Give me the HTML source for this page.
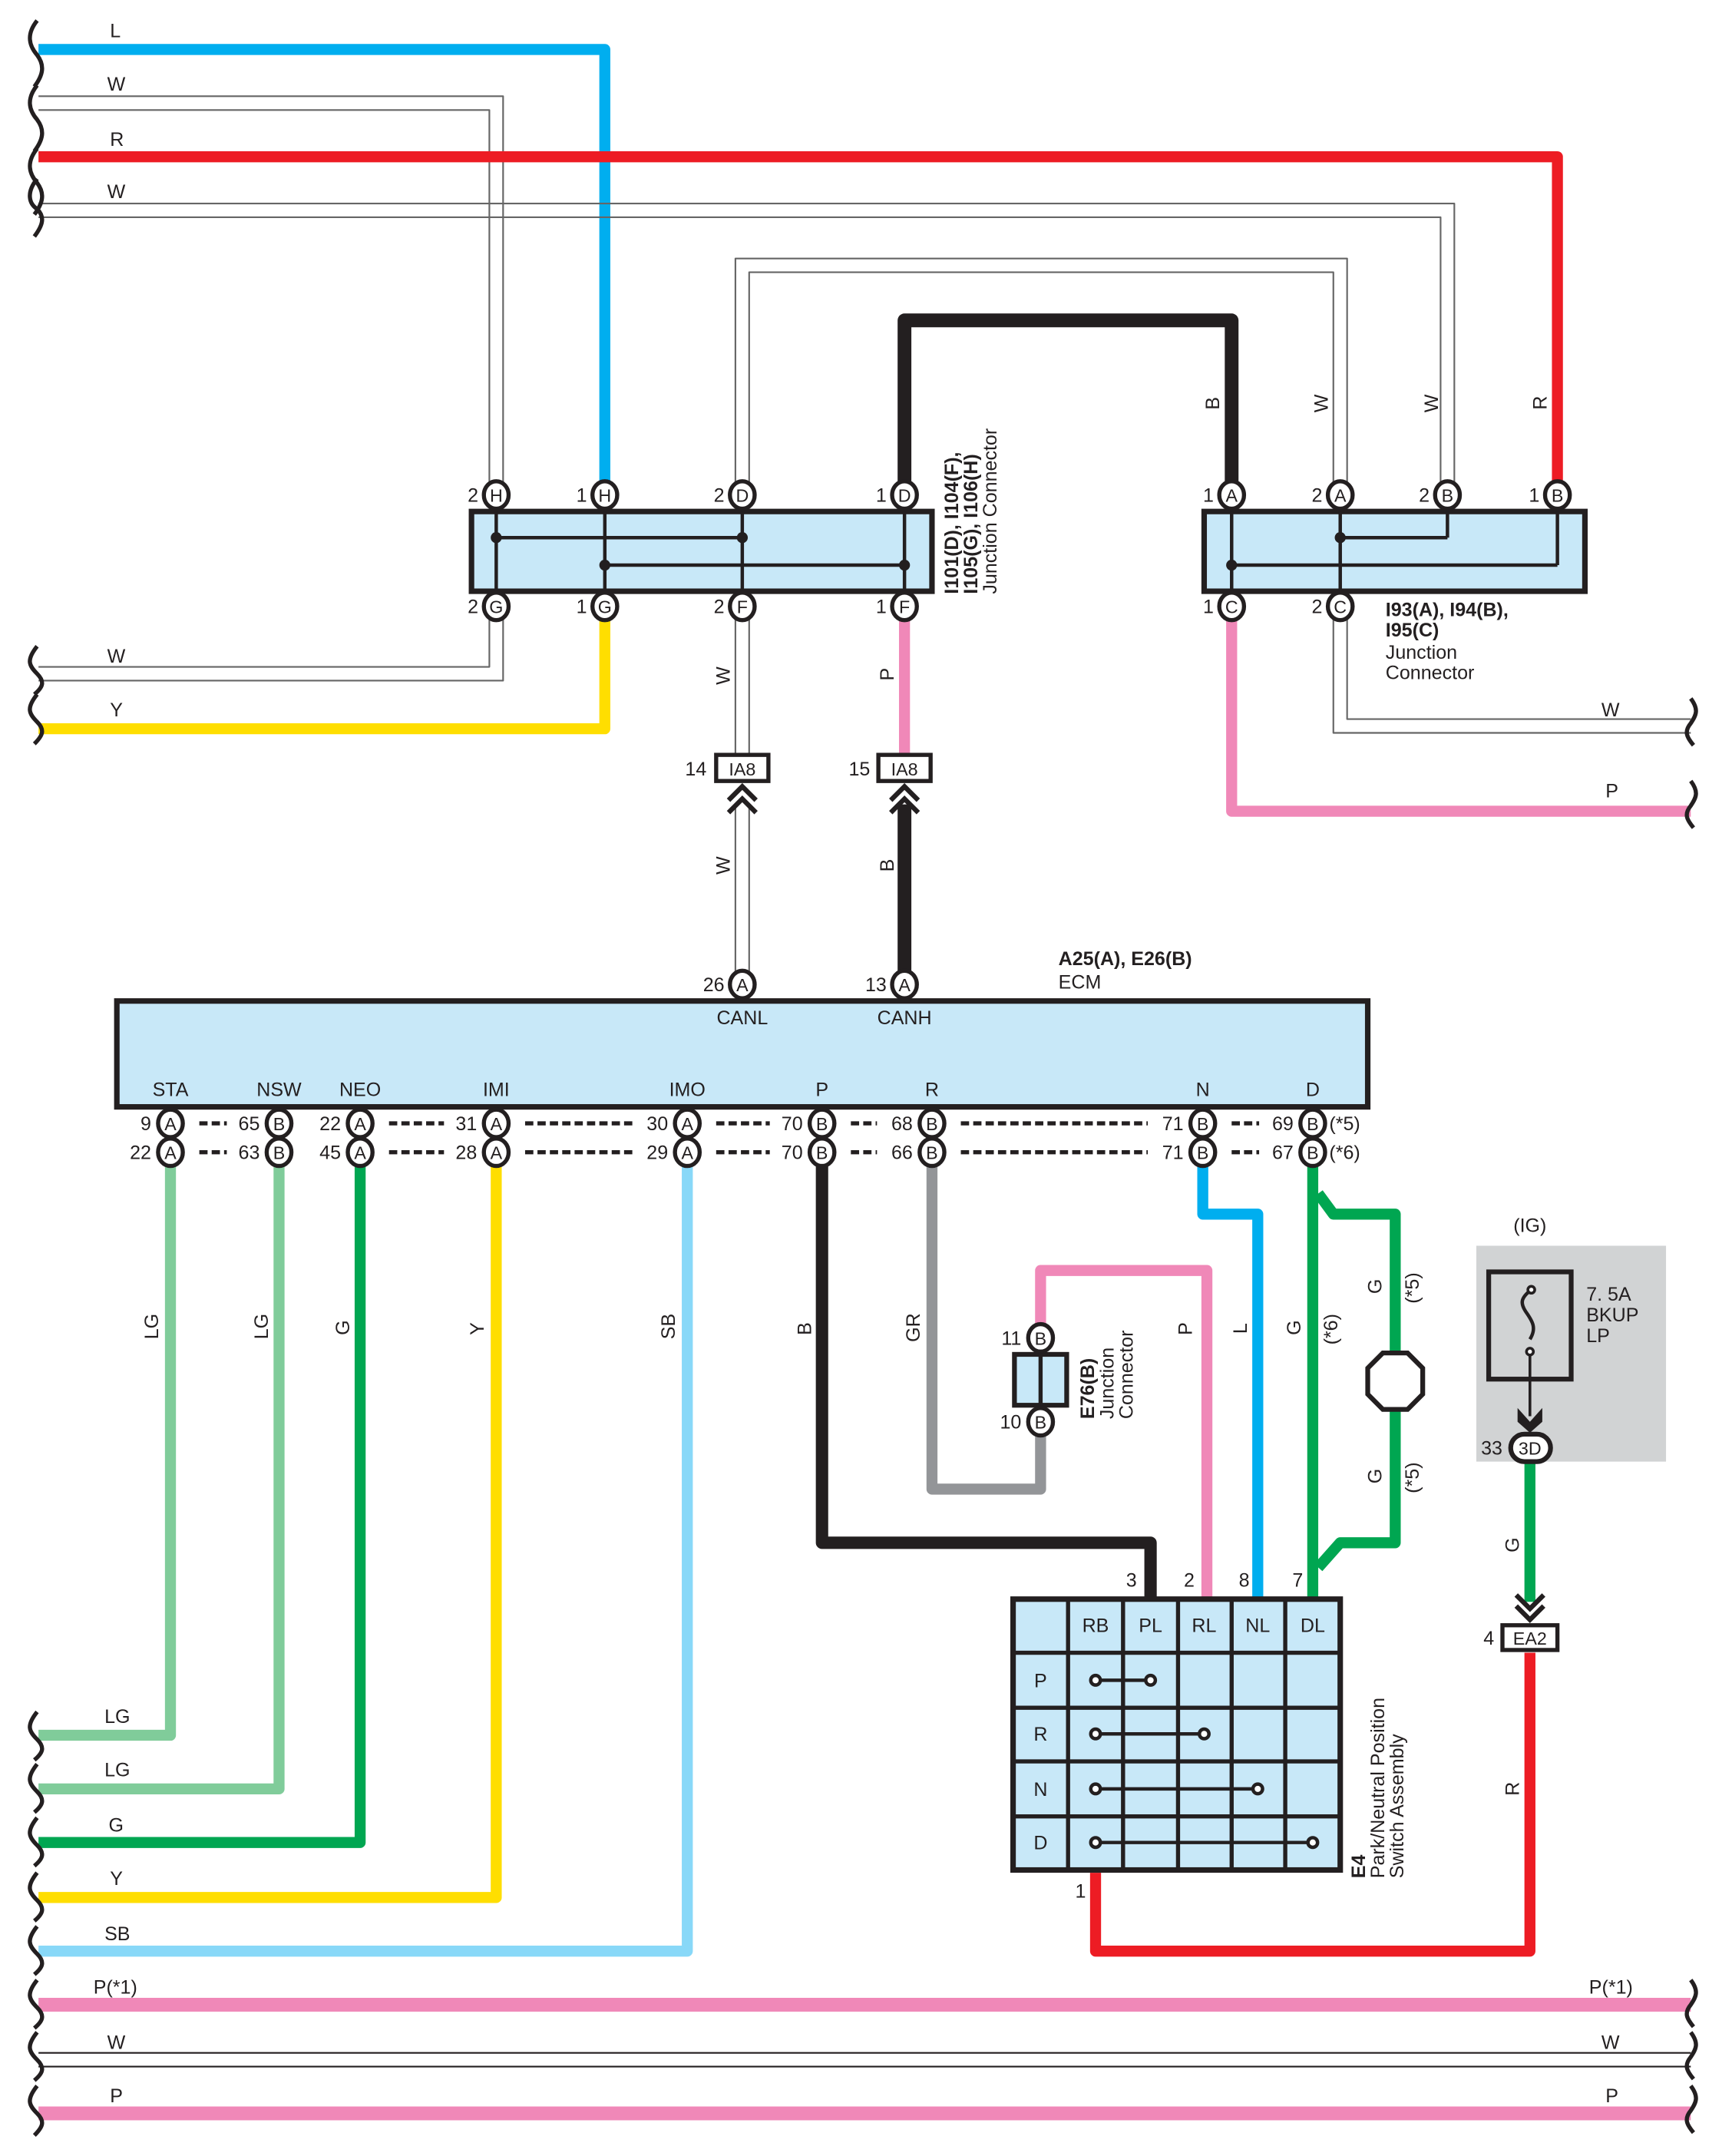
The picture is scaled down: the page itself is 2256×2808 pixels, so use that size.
<!DOCTYPE html>
<html><head><meta charset="utf-8"><style>
html,body{margin:0;padding:0;background:#fff}
svg{display:block}
text{font-family:"Liberation Sans",sans-serif;font-size:14px;fill:#231f20}
.b{font-weight:bold}
.pin text{font-size:13px}
</style></head><body>
<svg width="2256" height="2808" viewBox="0 0 1260 1568" preserveAspectRatio="none" xmlns="http://www.w3.org/2000/svg">
<defs>
<g id="pc"><ellipse cx="0" cy="0" rx="9" ry="10" fill="#fff" stroke="#231f20" stroke-width="3"/></g>
</defs>
<g fill="none" stroke-linejoin="round" stroke-linecap="butt">
<path d="M28,36 H440 V352" stroke="#00aeef" stroke-width="8"/>
<path d="M28,70 H366 V352 M28,80 H356 V352" stroke="#666" stroke-width="1.2"/>
<path d="M28,114 H1133 V352" stroke="#ed1c24" stroke-width="8"/>
<path d="M28,148 H1058 V352 M28,158 H1048 V352" stroke="#666" stroke-width="1.2"/>
<path d="M535,352 V188 H980 V352 M545,352 V198 H970 V352" stroke="#666" stroke-width="1.2"/>
<path d="M658,352 V233 H896 V352" stroke="#231f20" stroke-width="10"/>
<path d="M356,450 V485 H28 M366,450 V495 H28" stroke="#666" stroke-width="1.2"/>
<path d="M440,450 V530 H28" stroke="#ffde00" stroke-width="8"/>
<path d="M535,450 V549 M545,450 V549" stroke="#666" stroke-width="1.2"/>
<path d="M658,450 V549" stroke="#f088b8" stroke-width="8"/>
<path d="M535,585 V708 M545,585 V708" stroke="#666" stroke-width="1.2"/>
<path d="M658,585 V708" stroke="#231f20" stroke-width="10"/>
<path d="M896,450 V590 H1230" stroke="#f088b8" stroke-width="8"/>
<path d="M970,450 V533 H1230 M980,450 V523 H1230" stroke="#666" stroke-width="1.2"/>
<path d="M124,848 V1262 H28" stroke="#80cc9a" stroke-width="8"/>
<path d="M203,848 V1301 H28" stroke="#80cc9a" stroke-width="8"/>
<path d="M262,848 V1340 H28" stroke="#00a651" stroke-width="8"/>
<path d="M361,848 V1380 H28" stroke="#ffde00" stroke-width="8"/>
<path d="M500,848 V1419 H28" stroke="#88d8f8" stroke-width="8"/>
<path d="M598,848 V1122 H837 V1162" stroke="#231f20" stroke-width="9"/>
<path d="M678,848 V1083 H757 V1044" stroke="#939598" stroke-width="8"/>
<path d="M757,964 V924 H878 V1162" stroke="#f088b8" stroke-width="8"/>
<path d="M875,848 V883 H915 V1162" stroke="#00aeef" stroke-width="8"/>
<path d="M955,848 V1162" stroke="#00a651" stroke-width="8"/>
<path d="M959,868 L970,883 H1015 V985 M1015,1025 V1122 H975 L959,1140" stroke="#00a651" stroke-width="8"/>
<path d="M797,1362 V1419 H1113 V1202" stroke="#ed1c24" stroke-width="8"/>
<path d="M1113,1064 V1165" stroke="#00a651" stroke-width="8"/>
<path d="M28,1458 H1230" stroke="#f088b8" stroke-width="10"/>
<path d="M28,1493 H1230 M28,1503 H1230" stroke="#231f20" stroke-width="1.2"/>
<path d="M28,1537 H1230" stroke="#f088b8" stroke-width="10"/>
<g stroke="#231f20" stroke-width="3">
<path d="M27,15 c-8,10 -6,18 0,25 c6,8 4,15 -2,23 M27,62 c-8,10 -6,18 0,25 c6,8 4,15 -2,23 M27,108 c-8,10 -6,18 0,25 c6,8 4,15 -2,23 M27,130 c-8,10 -6,18 0,22 c6,6 4,12 -2,20"/>
<path d="M27,470 c-8,10 -6,14 0,20 c6,6 4,10 -2,15 M27,505 c-8,10 -6,14 0,20 c6,6 4,10 -2,16"/>
<path d="M27,1245 c-8,10 -6,14 0,20 c6,6 4,10 -2,15 M27,1283 c-8,10 -6,14 0,20 c6,6 4,10 -2,15 M27,1322 c-8,10 -6,14 0,20 c6,6 4,10 -2,15 M27,1362 c-8,10 -6,14 0,20 c6,6 4,10 -2,15 M27,1401 c-8,10 -6,14 0,20 c6,6 4,10 -2,15 M27,1440 c-8,10 -6,14 0,20 c6,6 4,10 -2,15 M27,1478 c-8,10 -6,14 0,20 c6,6 4,10 -2,15 M27,1517 c-8,10 -6,14 0,20 c6,6 4,10 -2,16"/>
<path d="M1230,508 c6,8 4,12 0,18 c-5,6 -3,10 2,16 M1230,568 c6,8 4,12 0,18 c-5,6 -3,10 2,16 M1230,1440 c6,8 4,12 0,18 c-5,6 -3,10 2,16 M1230,1478 c6,8 4,12 0,18 c-5,6 -3,10 2,16 M1230,1517 c6,8 4,12 0,18 c-5,6 -3,10 2,16"/>
</g>
</g>

<rect x="343" y="372" width="335" height="58" fill="#c8e8f8" stroke="#231f20" stroke-width="4"/>
<g stroke="#231f20" stroke-width="2.5">
<path d="M361,372 V430 M440,372 V430 M540,372 V430 M658,372 V430 M361,391 H540 M440,411 H658"/>
</g>
<g fill="#231f20"><circle cx="361" cy="391" r="4"/><circle cx="540" cy="391" r="4"/><circle cx="440" cy="411" r="4"/><circle cx="658" cy="411" r="4"/></g>
<rect x="876" y="372" width="277" height="58" fill="#c8e8f8" stroke="#231f20" stroke-width="4"/>
<g stroke="#231f20" stroke-width="2.5">
<path d="M896,372 V430 M975,372 V430 M1053,372 V391 M1133,372 V411 M975,391 H1053 M896,411 H1133"/>
</g>
<g fill="#231f20"><circle cx="975" cy="391" r="4"/><circle cx="896" cy="411" r="4"/></g>

<g class="pin" text-anchor="middle">
<use href="#pc" x="361" y="360"/><text x="361" y="365">H</text>
<use href="#pc" x="440" y="360"/><text x="440" y="365">H</text>
<use href="#pc" x="540" y="360"/><text x="540" y="365">D</text>
<use href="#pc" x="658" y="360"/><text x="658" y="365">D</text>
<use href="#pc" x="361" y="441"/><text x="361" y="446">G</text>
<use href="#pc" x="440" y="441"/><text x="440" y="446">G</text>
<use href="#pc" x="540" y="441"/><text x="540" y="446">F</text>
<use href="#pc" x="658" y="441"/><text x="658" y="446">F</text>
<use href="#pc" x="896" y="360"/><text x="896" y="365">A</text>
<use href="#pc" x="975" y="360"/><text x="975" y="365">A</text>
<use href="#pc" x="1053" y="360"/><text x="1053" y="365">B</text>
<use href="#pc" x="1133" y="360"/><text x="1133" y="365">B</text>
<use href="#pc" x="896" y="441"/><text x="896" y="446">C</text>
<use href="#pc" x="975" y="441"/><text x="975" y="446">C</text>
<use href="#pc" x="540" y="716"/><text x="540" y="721">A</text>
<use href="#pc" x="658" y="716"/><text x="658" y="721">A</text>
</g>
<g text-anchor="end">
<text x="348" y="365">2</text><text x="427" y="365">1</text><text x="527" y="365">2</text><text x="645" y="365">1</text>
<text x="348" y="446">2</text><text x="427" y="446">1</text><text x="527" y="446">2</text><text x="645" y="446">1</text>
<text x="883" y="365">1</text><text x="962" y="365">2</text><text x="1040" y="365">2</text><text x="1120" y="365">1</text>
<text x="883" y="446">1</text><text x="962" y="446">2</text>
<text x="527" y="721">26</text><text x="645" y="721">13</text>
</g>

<g fill="#fff" stroke="#231f20" stroke-width="3">
<rect x="521" y="549" width="38" height="19"/><rect x="639" y="549" width="38" height="19"/>
</g>
<text x="540" y="564" text-anchor="middle" style="font-size:13px">IA8</text>
<text x="658" y="564" text-anchor="middle" style="font-size:13px">IA8</text>
<text x="514" y="564" text-anchor="end">14</text><text x="633" y="564" text-anchor="end">15</text>
<g fill="none" stroke="#231f20" stroke-width="3.5">
<path d="M530,582 L540,572 L550,582 M530,591 L540,581 L550,591"/>
<path d="M648,582 L658,572 L668,582 M648,591 L658,581 L668,591"/>
</g>

<g>
<text transform="translate(887,298) rotate(-90)">B</text>
<text transform="translate(966,300) rotate(-90)">W</text>
<text transform="translate(1046,300) rotate(-90)">W</text>
<text transform="translate(1125,298) rotate(-90)">R</text>
<text transform="translate(531,498) rotate(-90)">W</text>
<text transform="translate(650,495) rotate(-90)">P</text>
<text transform="translate(531,636) rotate(-90)">W</text>
<text transform="translate(650,634) rotate(-90)">B</text>
<text transform="translate(115,974) rotate(-90)">LG</text>
<text transform="translate(195,974) rotate(-90)">LG</text>
<text transform="translate(254,971) rotate(-90)">G</text>
<text transform="translate(352,971) rotate(-90)">Y</text>
<text transform="translate(491,974) rotate(-90)">SB</text>
<text transform="translate(590,971) rotate(-90)">B</text>
<text transform="translate(669,976) rotate(-90)">GR</text>
<text transform="translate(867,971) rotate(-90)">P</text>
<text transform="translate(907,970) rotate(-90)">L</text>
<text transform="translate(946,971) rotate(-90)">G</text>
<text transform="translate(973,978) rotate(-90)">(*6)</text>
<text transform="translate(1005,941) rotate(-90)">G</text>
<text transform="translate(1032,948) rotate(-90)">(*5)</text>
<text transform="translate(1005,1079) rotate(-90)">G</text>
<text transform="translate(1032,1086) rotate(-90)">(*5)</text>
<text transform="translate(1105,1129) rotate(-90)">G</text>
<text transform="translate(1105,1306) rotate(-90)">R</text>
</g>
<g>
<text x="80" y="27">L</text><text x="78" y="66">W</text><text x="80" y="106">R</text><text x="78" y="144">W</text>
<text x="78" y="482">W</text><text x="80" y="521">Y</text>
<text x="1165" y="521">W</text><text x="1168" y="580">P</text>
<text x="76" y="1253">LG</text><text x="76" y="1292">LG</text><text x="79" y="1332">G</text><text x="80" y="1371">Y</text><text x="76" y="1411">SB</text>
<text x="68" y="1450">P(*1)</text><text x="1156" y="1450">P(*1)</text>
<text x="78" y="1490">W</text><text x="1165" y="1490">W</text>
<text x="80" y="1529">P</text><text x="1168" y="1529">P</text>
</g>

<g transform="translate(697,432) rotate(-90)">
<text class="b" x="0" y="0">I101(D), I104(F),</text>
<text class="b" x="0" y="14">I105(G), I106(H)</text>
<text x="0" y="28">Junction Connector</text>
</g>
<text class="b" x="1008" y="448">I93(A), I94(B),</text>
<text class="b" x="1008" y="463">I95(C)</text>
<text x="1008" y="479">Junction</text>
<text x="1008" y="494">Connector</text>

<text class="b" x="770" y="702">A25(A), E26(B)</text>
<text x="770" y="719">ECM</text>
<rect x="85" y="728" width="910" height="77" fill="#c8e8f8" stroke="#231f20" stroke-width="4"/>
<g text-anchor="middle">
<text x="540" y="745">CANL</text><text x="658" y="745">CANH</text>
<text x="124" y="797">STA</text><text x="203" y="797">NSW</text><text x="262" y="797">NEO</text><text x="361" y="797">IMI</text>
<text x="500" y="797">IMO</text><text x="598" y="797">P</text><text x="678" y="797">R</text><text x="875" y="797">N</text><text x="955" y="797">D</text>
</g>
<g stroke="#231f20" stroke-width="3" stroke-dasharray="6,3">
<path d="M145,817 H165 M283,817 H323 M382,817 H460 M521,817 H560 M619,817 H638 M699,817 H835 M896,817 H916"/>
<path d="M145,838 H165 M283,838 H323 M382,838 H460 M521,838 H560 M619,838 H638 M699,838 H835 M896,838 H916"/>
</g>
<g class="pin" text-anchor="middle">
<use href="#pc" x="124" y="838"/><text x="124" y="843">A</text><use href="#pc" x="124" y="817"/><text x="124" y="822">A</text>
<use href="#pc" x="203" y="838"/><text x="203" y="843">B</text><use href="#pc" x="203" y="817"/><text x="203" y="822">B</text>
<use href="#pc" x="262" y="838"/><text x="262" y="843">A</text><use href="#pc" x="262" y="817"/><text x="262" y="822">A</text>
<use href="#pc" x="361" y="838"/><text x="361" y="843">A</text><use href="#pc" x="361" y="817"/><text x="361" y="822">A</text>
<use href="#pc" x="500" y="838"/><text x="500" y="843">A</text><use href="#pc" x="500" y="817"/><text x="500" y="822">A</text>
<use href="#pc" x="598" y="838"/><text x="598" y="843">B</text><use href="#pc" x="598" y="817"/><text x="598" y="822">B</text>
<use href="#pc" x="678" y="838"/><text x="678" y="843">B</text><use href="#pc" x="678" y="817"/><text x="678" y="822">B</text>
<use href="#pc" x="875" y="838"/><text x="875" y="843">B</text><use href="#pc" x="875" y="817"/><text x="875" y="822">B</text>
<use href="#pc" x="955" y="838"/><text x="955" y="843">B</text><use href="#pc" x="955" y="817"/><text x="955" y="822">B</text>
</g>
<g text-anchor="end">
<text x="110" y="822">9</text><text x="189" y="822">65</text><text x="248" y="822">22</text><text x="347" y="822">31</text><text x="486" y="822">30</text><text x="584" y="822">70</text><text x="664" y="822">68</text><text x="861" y="822">71</text><text x="941" y="822">69</text>
<text x="110" y="843">22</text><text x="189" y="843">63</text><text x="248" y="843">45</text><text x="347" y="843">28</text><text x="486" y="843">29</text><text x="584" y="843">70</text><text x="664" y="843">66</text><text x="861" y="843">71</text><text x="941" y="843">67</text>
</g>
<text x="967" y="822">(*5)</text><text x="967" y="843">(*6)</text>

<rect x="738" y="985" width="38" height="37" fill="#c8e8f8" stroke="#231f20" stroke-width="3.5"/>
<path d="M757,985 V1022" stroke="#231f20" stroke-width="3"/>
<g class="pin" text-anchor="middle">
<use href="#pc" x="757" y="973"/><text x="757" y="978">B</text>
<use href="#pc" x="757" y="1034"/><text x="757" y="1039">B</text>
</g>
<text x="743" y="978" text-anchor="end">11</text><text x="743" y="1039" text-anchor="end">10</text>
<g transform="translate(796,1032) rotate(-90)">
<text class="b" x="0" y="0">E76(B)</text><text x="0" y="14">Junction</text><text x="0" y="28">Connector</text>
</g>

<polygon points="1006,984 1024,984 1035,995 1035,1014 1024,1025 1006,1025 995,1014 995,995" fill="#fff" stroke="#231f20" stroke-width="3.5"/>

<rect x="1074" y="906" width="138" height="157" fill="#d1d3d4"/>
<text x="1113" y="896" text-anchor="middle">(IG)</text>
<rect x="1083" y="925" width="60" height="78" fill="none" stroke="#231f20" stroke-width="3.5"/>
<path d="M1114,938 c-8,6 -8,10 -4,16 c5,7 8,12 3,20" fill="none" stroke="#231f20" stroke-width="2.5"/>
<circle cx="1114" cy="938" r="2.5" fill="#fff" stroke="#231f20" stroke-width="2"/>
<circle cx="1113" cy="983" r="2.5" fill="#fff" stroke="#231f20" stroke-width="2"/>
<path d="M1113,986 V1030" stroke="#231f20" stroke-width="2"/>
<path d="M1104,1024 L1113,1034 L1122,1024 L1122,1034 L1113,1042 L1104,1034 Z" fill="#231f20"/>
<text x="1154" y="946">7. 5A</text><text x="1154" y="961">BKUP</text><text x="1154" y="976">LP</text>
<rect x="1099" y="1043" width="29" height="20" rx="10" fill="#fff" stroke="#231f20" stroke-width="3.5"/>
<text x="1113" y="1058" text-anchor="middle" style="font-size:13px">3D</text>
<text x="1093" y="1058" text-anchor="end">33</text>
<path d="M1103,1160 L1113,1170 L1123,1160 M1103,1168 L1113,1178 L1123,1168" fill="none" stroke="#231f20" stroke-width="3.5"/>
<rect x="1093" y="1182" width="40" height="18" fill="#fff" stroke="#231f20" stroke-width="3"/>
<text x="1113" y="1196" text-anchor="middle" style="font-size:13px">EA2</text>
<text x="1087" y="1196" text-anchor="end">4</text>

<rect x="737" y="1163" width="238" height="197" fill="#c8e8f8" stroke="#231f20" stroke-width="4"/>
<g stroke="#231f20" stroke-width="3">
<path d="M777,1163 V1360 M817,1163 V1360 M857,1163 V1360 M896,1163 V1360 M935,1163 V1360 M737,1202 H975 M737,1242 H975 M737,1281 H975 M737,1321 H975"/>
</g>
<g text-anchor="middle">
<text x="797" y="1187">RB</text><text x="837" y="1187">PL</text><text x="876" y="1187">RL</text><text x="915" y="1187">NL</text><text x="955" y="1187">DL</text>
<text x="757" y="1227">P</text><text x="757" y="1266">R</text><text x="757" y="1306">N</text><text x="757" y="1345">D</text>
</g>
<g stroke="#231f20" stroke-width="2.5" fill="#fff">
<path d="M797,1222 H837 M797,1261 H876 M797,1301 H915 M797,1340 H955"/>
<circle cx="797" cy="1222" r="3.5"/><circle cx="837" cy="1222" r="3.5"/>
<circle cx="797" cy="1261" r="3.5"/><circle cx="876" cy="1261" r="3.5"/>
<circle cx="797" cy="1301" r="3.5"/><circle cx="915" cy="1301" r="3.5"/>
<circle cx="797" cy="1340" r="3.5"/><circle cx="955" cy="1340" r="3.5"/>
</g>
<text x="827" y="1154" text-anchor="end">3</text><text x="869" y="1154" text-anchor="end">2</text><text x="909" y="1154" text-anchor="end">8</text><text x="948" y="1154" text-anchor="end">7</text>
<text x="790" y="1380" text-anchor="end">1</text>
<g transform="translate(993,1366) rotate(-90)">
<text class="b" x="0" y="0">E4</text><text x="0" y="14">Park/Neutral Position</text><text x="0" y="28">Switch Assembly</text>
</g>
</svg>
</body></html>
